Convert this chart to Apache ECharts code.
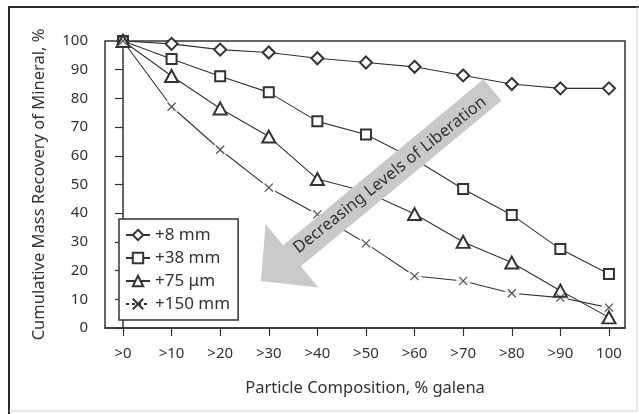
<!DOCTYPE html>
<html>
<head>
<meta charset="utf-8">
<script src="https://cdn.jsdelivr.net/npm/echarts@6/dist/echarts.min.js"></script>
<style>
html,body{margin:0;padding:0;background:#fff;}
#chart{width:639px;height:414px;}
</style>
</head>
<body>
<div id="chart"></div>
<script>
const categories = ['>0','>10','>20','>30','>40','>50','>60','>70','>80','>90','100'];
const seriesNames = ['+8 mm','+38 mm','+75 μm','+150 mm'];
const mm8   = [100, 99, 97, 96, 94, 92.5, 91, 88, 85, 83.5, 83.5];
const mm38  = [100, 93.7, 87.7, 82.1, 72, 67.4, 58.8, 48.4, 39.4, 27.5, 18.8];
const um75  = [100, 87.8, 76.5, 66.7, 51.9, 47.5, 39.7, 30, 22.8, 13, 3.7];
const mm150 = [100, 77.1, 62.1, 48.9, 39.6, 29.5, 18.1, 16.4, 12.1, 10.6, 7.1];
const yTicks = [0,10,20,30,40,50,60,70,80,90,100];

const FONT = '"Noto Sans", "DejaVu Sans", sans-serif';
const INK = '#333333';
const idx = categories.map((c,i)=>i);
const toXY = arr => arr.map((v,i)=>[i, v]);
const xPath = 'path://M0,0L10,10M10,0L0,10';

const chart = echarts.init(document.getElementById('chart'), null, {renderer:'canvas'});
const option = {
  animation:false,
  backgroundColor:'#ffffff',
  textStyle:{fontFamily:FONT, color:INK},
  grid:{left:105, top:41, width:520, height:287, show:true, borderColor:INK, borderWidth:1.5, backgroundColor:'transparent'},
  xAxis:{
    type:'value', min:-0.37, max:10.33,
    name:'Particle Composition, % galena', nameLocation:'middle', nameGap:52,
    nameTextStyle:{fontSize:16.5, color:INK, fontFamily:FONT},
    axisLine:{show:true, lineStyle:{color:INK, width:1.5}},
    axisTick:{show:true, customValues:idx, length:8, lineStyle:{color:INK, width:1.2}},
    axisLabel:{customValues:idx, margin:18, fontSize:15, color:INK, fontFamily:FONT,
      formatter:v=>categories[Math.round(v)]},
    splitLine:{show:false}
  },
  yAxis:{
    type:'value', min:0, max:100, interval:10,
    name:'Cumulative Mass Recovery of Mineral, %', nameLocation:'middle', nameGap:57, nameRotate:90,
    nameTextStyle:{fontSize:16.5, color:INK, fontFamily:FONT},
    axisLine:{show:true, lineStyle:{color:INK, width:1.5}},
    axisTick:{show:true, length:8, lineStyle:{color:INK, width:1.2}},
    axisLabel:{margin:17, fontSize:15, color:INK, fontFamily:FONT,
      formatter:v=>yTicks.includes(v)?String(v):''},
    splitLine:{show:false}
  },
  legend:{
    orient:'vertical', left:119, top:219,
    padding:[7,8,7,6], itemGap:5, itemWidth:24, itemHeight:13,
    borderColor:INK, borderWidth:1.5, backgroundColor:'#fff',
    textStyle:{fontSize:17, lineHeight:18, color:INK, fontFamily:FONT},
    data:[
      {name:seriesNames[0]},
      {name:seriesNames[1]},
      {name:seriesNames[2]},
      {name:seriesNames[3], lineStyle:{type:[3,3]}}
    ]
  },
  series:[
    {name:seriesNames[3], type:'line', data:toXY(mm150), z:1, symbol:xPath, symbolSize:8,
      itemStyle:{color:'none', borderColor:INK, borderWidth:1.2},
      lineStyle:{color:INK, width:1.1}},
    {name:'gap', type:'scatter', data:toXY(mm150), z:2, silent:true, symbol:'circle', symbolSize:15,
      itemStyle:{color:'#fff', borderWidth:0}},
    {name:seriesNames[0], type:'line', data:toXY(mm8), z:3, symbol:'emptyDiamond', symbolSize:12,
      itemStyle:{color:INK, borderWidth:1.2}, lineStyle:{color:INK, width:1.1}},
    {name:seriesNames[1], type:'line', data:toXY(mm38), z:3, symbol:'emptyRect', symbolSize:10,
      itemStyle:{color:INK, borderWidth:1.2}, lineStyle:{color:INK, width:1.1}},
    {name:seriesNames[2], type:'line', data:toXY(um75), z:3, symbol:'emptyTriangle', symbolSize:[13,12],
      itemStyle:{color:INK, borderWidth:1.2}, lineStyle:{color:INK, width:1.1}},
    {name:'xmarks', type:'scatter', data:toXY(mm150), z:4, silent:true, symbol:xPath, symbolSize:8,
      itemStyle:{color:'none', borderColor:INK, borderWidth:1.2}}
  ],
  graphic:[
    {type:'polyline', shape:{points:[[9,414],[9,7],[639,7]]}, style:{stroke:'#2a2a2a', lineWidth:2, fill:null}, z:10},
    {type:'polyline', shape:{points:[[637,7],[637,411],[9,411]]}, style:{stroke:'#d0d0d0', lineWidth:1, fill:null}, z:10},
    {type:'polygon', shape:{points:[[483.6,79.2],[501.4,100.8],[300.9,266.3],[318.4,287.4],[261,281],[265.6,224.2],[283.1,245.3]]},
      style:{fill:'#c9c9c9'}, z:20},
    {type:'text', x:390, y:175, rotation:38.5*Math.PI/180, z:21,
      style:{text:'Decreasing Levels of Liberation', fill:INK, font:'16.5px '+FONT, align:'center', verticalAlign:'middle'}}
  ]
};
chart.setOption(option);
</script>
</body>
</html>
